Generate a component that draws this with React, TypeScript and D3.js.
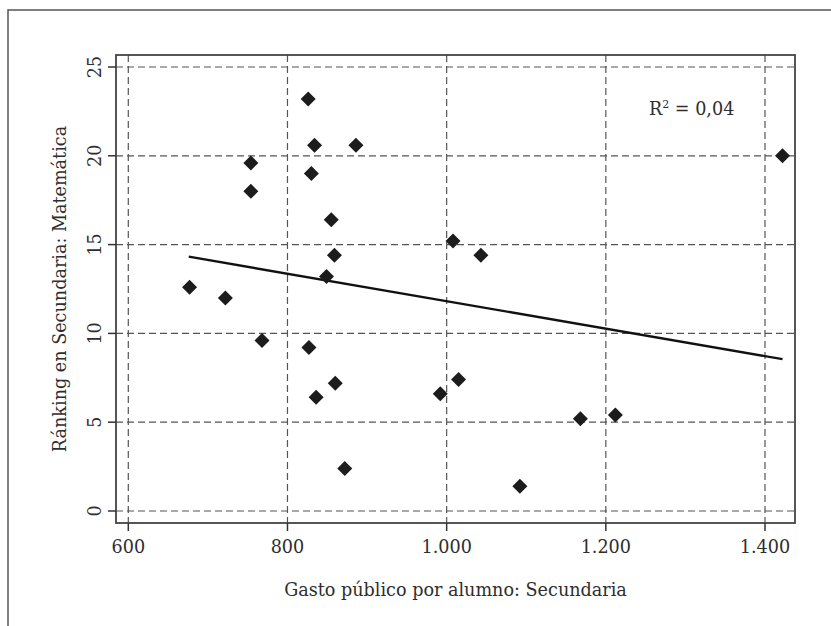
import React from 'react';
import * as d3 from 'd3';

// gasto público por alumno (secundaria) vs ránking en matemática
const gasto = [677, 722, 754, 754, 768, 826, 834, 830, 886, 855, 859, 849, 827, 860, 836, 872, 1008, 1043, 1015, 992, 1092, 1168, 1212, 1422];
const ranking = [12.6, 12.0, 19.6, 18.0, 9.6, 23.2, 20.6, 19.0, 20.6, 16.4, 14.4, 13.2, 9.2, 7.2, 6.4, 2.4, 15.2, 14.4, 7.4, 6.6, 1.4, 5.2, 5.4, 20.0];

const xTicks = [600, 800, 1000, 1200, 1400];
const xTickLabels = ['600', '800', '1.000', '1.200', '1.400'];
const yTicks = [0, 5, 10, 15, 20, 25];

// recta de ajuste
const trendX = [676, 1422];
const trendY = [14.32, 8.55];

const W = 831;
const H = 626;
const frame = { left: 116, right: 795, top: 55, bottom: 523 };
const FONT = '"DejaVu Serif", serif';
const FS = 17.6;
const TEXT = '#2e2e2e';

export default function App() {
  const x = d3.scaleLinear().domain([600, 1400]).range([128.3, 765]);
  const y = d3.scaleLinear().domain([0, 25]).range([511, 67]);

  const line = d3.line<number>()
    .x((d, i) => x(trendX[i]))
    .y(d => y(d));

  const r = 7.5;
  const diamond = (cx: number, cy: number) => {
    const p = d3.path();
    p.moveTo(cx, cy - r);
    p.lineTo(cx + r, cy);
    p.lineTo(cx, cy + r);
    p.lineTo(cx - r, cy);
    p.closePath();
    return p.toString();
  };

  return (
    <svg width={W} height={H} style={{ position: 'absolute', left: 0, top: 0, background: '#fff' }}>
      {/* outer box */}
      <rect x={8} y={10} width={W + 20} height={H + 20} fill="none" stroke="#555" strokeWidth={1.5} />

      {/* grid */}
      {xTicks.map(t => (
        <line key={'gx' + t} x1={x(t)} x2={x(t)} y1={frame.top} y2={frame.bottom}
          stroke="#555" strokeWidth={1.2} strokeDasharray="7,4" />
      ))}
      {yTicks.map(t => (
        <line key={'gy' + t} x1={frame.left} x2={frame.right} y1={y(t)} y2={y(t)}
          stroke="#555" strokeWidth={1.2} strokeDasharray="7,4" />
      ))}

      {/* plot frame */}
      <rect x={frame.left} y={frame.top} width={frame.right - frame.left} height={frame.bottom - frame.top}
        fill="none" stroke="#444" strokeWidth={1.8} />

      {/* ticks */}
      {xTicks.map((t, i) => (
        <g key={'tx' + t}>
          <line x1={x(t)} x2={x(t)} y1={frame.bottom} y2={frame.bottom + 8} stroke="#333" strokeWidth={1.5} />
          <text x={x(t)} y={553} textAnchor="middle" fontFamily={FONT} fontSize={FS} fill={TEXT}>{xTickLabels[i]}</text>
        </g>
      ))}
      {yTicks.map(t => (
        <g key={'ty' + t}>
          <line x1={frame.left - 8} x2={frame.left} y1={y(t)} y2={y(t)} stroke="#333" strokeWidth={1.5} />
          <text transform={`translate(101,${y(t)}) rotate(-90)`} textAnchor="middle" fontFamily={FONT} fontSize={FS} fill={TEXT}>{t}</text>
        </g>
      ))}

      {/* trend line */}
      <path d={line(trendY) || ''} fill="none" stroke="#111" strokeWidth={2.4} />

      {/* points */}
      {gasto.map((g, i) => (
        <path key={'p' + i} d={diamond(x(g), y(ranking[i]))} fill="#1c1c1c" />
      ))}

      {/* R2 */}
      <text x={649} y={115} fontFamily={FONT} fontSize={FS} fill={TEXT}>
        R<tspan dy={-7} fontSize={11}>2</tspan><tspan dy={7}> = 0,04</tspan>
      </text>

      {/* axis titles */}
      <text x={(frame.left + frame.right) / 2} y={596} textAnchor="middle" fontFamily={FONT} fontSize={FS} fill={TEXT}>
        Gasto público por alumno: Secundaria
      </text>
      <text transform={`translate(66,${(frame.top + frame.bottom) / 2}) rotate(-90)`} textAnchor="middle"
        fontFamily={FONT} fontSize={FS} fill={TEXT}>
        Ránking en Secundaria: Matemática
      </text>
    </svg>
  );
}
